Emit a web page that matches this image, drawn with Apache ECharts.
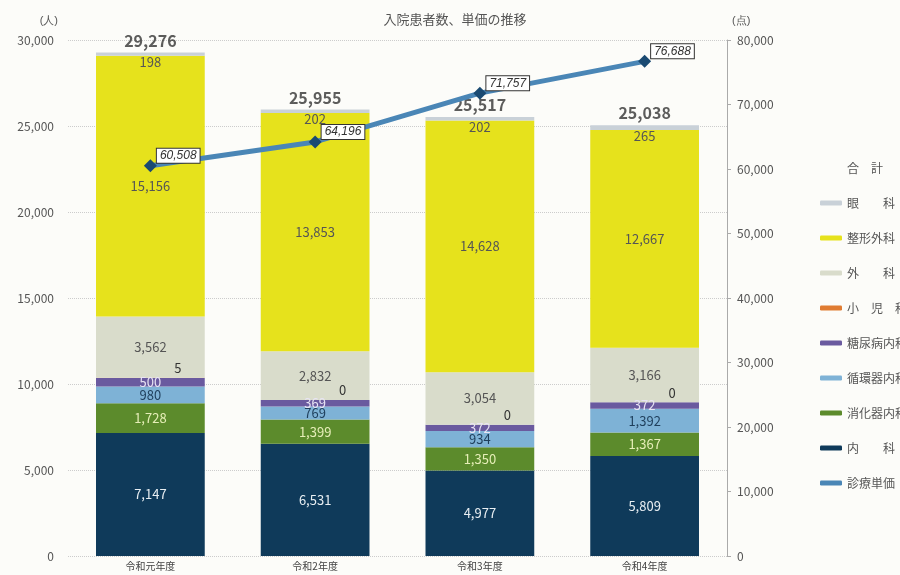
<!DOCTYPE html>
<html><head><meta charset="utf-8">
<script src="https://cdn.jsdelivr.net/npm/echarts@6/dist/echarts.min.js"></script>
<style>html,body{margin:0;padding:0;background:#fcfcf9}#c{width:900px;height:575px}</style>
</head><body><div id="c"></div>
<script>
const categories = ['令和元年度','令和2年度','令和3年度','令和4年度'];
const naika = [7147, 6531, 4977, 5809];
const shokaki = [1728, 1399, 1350, 1367];
const junkanki = [980, 769, 934, 1392];
const tonyo = [500, 369, 372, 372];
const shoni = [5, 0, 0, 0];
const geka = [3562, 2832, 3054, 3166];
const seikei = [15156, 13853, 14628, 12667];
const ganka = [198, 202, 202, 265];
const totals = [29276, 25955, 25517, 25038];
const tanka = [60508, 64196, 71757, 76688];
const leftTicks = [0, 5000, 10000, 15000, 20000, 25000, 30000];
const rightTicks = [0, 10000, 20000, 30000, 40000, 50000, 60000, 70000, 80000];

const FONT = '"Noto Sans CJK JP", "Noto Sans", sans-serif';
const fmt = v => v.toLocaleString('en-US');
function barSeries(name, data, color, labelColor, extra) {
  return Object.assign({
    name, type: 'bar', stack: 'p', data, barWidth: '66%',
    itemStyle: { color },
    label: { show: true, position: 'inside', color: labelColor, fontSize: 13, fontFamily: FONT,
      formatter: p => fmt(p.value) },
    emphasis: { disabled: true }
  }, extra || {});
}
const chart = echarts.init(document.getElementById('c'));
chart.setOption({
  backgroundColor: '#fcfcf9',
  animation: false,
  title: { text: '入院患者数、単価の推移', left: 450, textAlign: 'center', top: 8,
    textStyle: { fontSize: 13, fontWeight: 'normal', color: '#555', fontFamily: FONT } },
  grid: { left: 68, right: 173, top: 40, bottom: 19 },
  legend: {
    orient: 'vertical', left: 815, top: 157, itemGap: 23, itemWidth: 22, itemHeight: 5,
    textStyle: { fontSize: 12, color: '#555', fontFamily: FONT },
    data: [
      { name: '合　計', icon: 'none' },
      '眼　　科', '整形外科', '外　　科', '小　児　科', '糖尿病内科', '循環器内科', '消化器内科', '内　　科',
      { name: '診療単価', icon: 'roundRect', itemStyle: { color: '#4a86b6' } }
    ]
  },
  xAxis: {
    type: 'category', data: categories,
    axisLine: { show: false }, axisTick: { show: false },
    axisLabel: { fontSize: 10, color: '#444', margin: 5, fontFamily: FONT }
  },
  yAxis: [
    { type: 'value', min: 0, max: 30000, interval: 5000, name: '(人)', nameGap: 14,
      nameTextStyle: { color: '#555', fontSize: 11, align: 'right', padding: [0, 10, 0, 0] },
      axisLabel: { color: '#555', fontSize: 12, margin: 14, formatter: v => fmt(v), fontFamily: FONT },
      axisLine: { show: false }, axisTick: { show: false },
      splitLine: { show: true, lineStyle: { color: '#ccc', type: 'dotted' } } },
    { type: 'value', min: 0, max: 80000, interval: 10000, name: '(点)', nameGap: 14,
      nameTextStyle: { color: '#555', fontSize: 11, align: 'left', padding: [0, 0, 0, 5] },
      axisLabel: { color: '#555', fontSize: 12, margin: 10, formatter: v => fmt(v), fontFamily: FONT },
      axisLine: { show: true, lineStyle: { color: '#aaa' } },
      axisTick: { show: true, length: 4, lineStyle: { color: '#aaa' } },
      splitLine: { show: false } }
  ],
  series: [
    barSeries('内　　科', naika, '#0f3a5a', '#e8eef2'),
    barSeries('消化器内科', shokaki, '#5c8b2c', '#e6eeb8'),
    barSeries('循環器内科', junkanki, '#7eb2d6', '#1f3f5c'),
    barSeries('糖尿病内科', tonyo, '#6a5a9f', '#e8e4f4'),
    barSeries('小　児　科', shoni, '#e07c32', '#333', { label: { show: true, position: ['72%', -16], color: '#333', fontSize: 13, fontFamily: FONT } }),
    barSeries('外　　科', geka, '#d9dccb', '#555'),
    barSeries('整形外科', seikei, '#e6e21c', '#555'),
    barSeries('眼　　科', ganka, '#c9d1d8', '#555', { label: { show: true, position: 'bottom', distance: 0, color: '#555', fontSize: 13, fontFamily: FONT } }),
    { name: '合　計', type: 'scatter', data: totals, symbolSize: 0, silent: true,
      label: { show: true, position: 'top', distance: 4, color: '#333', fontSize: 16, fontWeight: 'bold', fontFamily: FONT, formatter: p => fmt(p.value) } },
    { name: '診療単価', type: 'line', yAxisIndex: 1, data: tanka,
      symbol: 'diamond', symbolSize: 13,
      lineStyle: { color: '#4a86b6', width: 5 },
      itemStyle: { color: '#1a4a72' },
      label: { show: true, position: 'right', distance: 4, offset: [-4, -10], fontStyle: 'italic', fontSize: 12, color: '#333',
        backgroundColor: '#fff', borderColor: '#333', borderWidth: 1, padding: [1, 3],
        formatter: p => fmt(p.value) } }
  ]
});
</script></body></html>
